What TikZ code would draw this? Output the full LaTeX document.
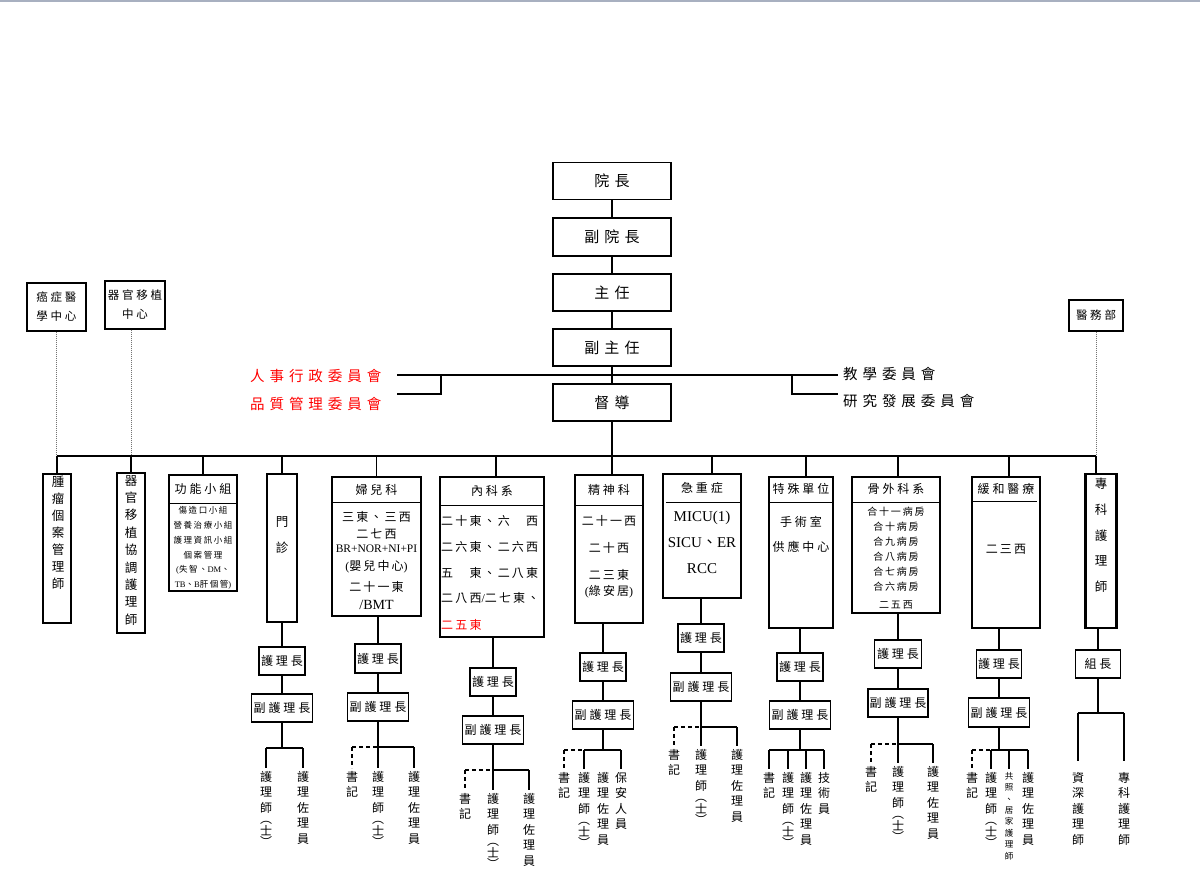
\documentclass[tikz,border=0pt]{standalone}
\usepackage{fontspec}
\setmainfont{Noto Sans CJK TC}
\newfontfamily\lat{Liberation Serif}
\newfontfamily\cjA[LetterSpace=34]{Noto Sans CJK TC}
\newfontfamily\cjB[LetterSpace=24]{Noto Sans CJK TC}
\newfontfamily\cjC[LetterSpace=18]{Noto Sans CJK TC}
\usetikzlibrary{calc}
\definecolor{topg}{RGB}{168,176,192}
\newcommand\fsz[2]{\fontsize{#1}{#2}\selectfont}
\newcommand\hls{護\\理\\師\\[-4pt]︵\\[-4pt]士\\[-4pt]︶}
\newcommand\zly{護\\理\\佐\\理\\員}
\tikzset{
  box/.style={draw, line width=1.1pt, inner sep=0pt, align=center},
  tbox/.style={draw, line width=2.6pt, inner sep=0pt},
  conn/.style={line width=1.1pt},
  dconn/.style={line width=1.1pt, dash pattern=on 4pt off 3pt},
  dotl/.style={line width=1pt, black!55, dash pattern=on 1pt off 1pt},
  topt/.style={font=\cjA\fsz{15}{17}},
  comt/.style={font=\cjA\fsz{14.5}{16}, anchor=west, inner sep=0pt},
  sidet/.style={font=\cjB\fsz{11.5}{19}},
  hdr/.style={font=\cjB\fsz{12}{13}, inner sep=0pt},
  lowt/.style={font=\cjB\fsz{12}{13}},
  ctx/.style={font=\cjC\fsz{12}{14}, inner sep=0pt},
  ltx/.style={font=\lat\fsz{15}{16}, inner sep=0pt},
  vcol/.style={anchor=north, inner sep=0pt, align=center, font=\fsz{12.5}{17}},
  vlab/.style={anchor=north, inner sep=0pt, align=center, font=\fsz{12}{15.5}},
  hzbox/.style={box, lowt, minimum width=46pt, minimum height=28pt},
  fzbox/.style={box, lowt, minimum width=61pt, minimum height=28pt},
  dropl/.style={conn, shorten >=3pt},
  ddropl/.style={dconn, shorten >=3pt}
}
\begin{document}
\begin{tikzpicture}[x=1pt,y=-1pt]
\useasboundingbox (0,0) rectangle (1200,875);
\fill[topg] (0,0) rectangle (1200,2);
\coordinate (bus) at (0,456);

% ---------- top chain
\node[box,topt,minimum width=118pt,minimum height=37pt] (yz) at (612,181) {院長};
\node[box,topt,minimum width=118pt,minimum height=38pt] (fyz) at (612,237) {副院長};
\node[box,topt,minimum width=118pt,minimum height=37pt] (zr) at (612,292.5) {主任};
\node[box,topt,minimum width=118pt,minimum height=37pt] (fzr) at (612,347.5) {副主任};
\node[box,topt,minimum width=118pt,minimum height=37pt] (dd) at (612,402.5) {督導};
\draw[conn] (yz) -- (fyz);
\draw[conn] (fyz) -- (zr);
\draw[conn] (zr) -- (fzr);
\draw[conn] (fzr) -- (dd);
\draw[conn] (dd.south) -- (dd.south |- bus);

% ---------- committees
\node[comt,red] (rs) at (250,376) {人事行政委員會};
\node[comt,red] (pz) at (250,404) {品質管理委員會};
\node[comt] (jx) at (843,374) {教學委員會};
\node[comt] (yf) at (843,401) {研究發展委員會};
\coordinate (k1) at (397,375); \coordinate (k2) at (838,375);
\coordinate (k3) at (441,375); \coordinate (k4) at (441,394); \coordinate (k5) at (397,394);
\coordinate (k6) at (792,375); \coordinate (k7) at (792,394); \coordinate (k8) at (838,394);
\draw[conn] (k1) -- (k2);
\draw[conn] (k3) -- (k4) -- (k5);
\draw[conn] (k6) -- (k7) -- (k8);

% ---------- side top boxes
\node[box,sidet,line width=1.4pt,minimum width=59pt,minimum height=48pt] (tl1) at (56.5,307) {癌症醫\\學中心};
\node[box,sidet,line width=1.4pt,minimum width=60pt,minimum height=48pt] (tl2) at (135,305) {器官移植\\中心};
\node[box,sidet,line width=1.4pt,minimum width=54pt,minimum height=31pt] (yw) at (1096,315.5) {醫務部};

% ---------- second level columns
\node[tbox,minimum width=28pt,minimum height=149pt] (c1) at (57,548.5) {};
\node[vcol] (c1t) at (58,476) {腫\\瘤\\個\\案\\管\\理\\師};

\node[tbox,minimum width=28pt,minimum height=160pt] (c2) at (131,553) {};
\node[vcol,font=\fsz{12.5}{17.4}] (c2t) at (131,475) {器\\官\\移\\植\\協\\調\\護\\理\\師};

\node[box,minimum width=68pt,minimum height=116pt] (c3) at (203,533) {};
\draw[conn] ($(c3.north west)+(0,29)$) -- ($(c3.north east)+(0,29)$);
\node[hdr] (c3h) at (203,489) {功能小組};
\node[font=\cjC\fsz{8.5}{14.8},align=center,inner sep=0pt] (c3t) at (203,548)
  {傷造口小組\\營養治療小組\\護理資訊小組\\個案管理\\{\lat(}失智、{\lat DM}、\\{\lat TB}、{\lat B}肝個管{\lat)}};

\node[box,minimum width=30pt,minimum height=148pt] (c4) at (282,548) {};
\node[font=\fsz{12.5}{26},align=center,inner sep=0pt] (c4t) at (282,535) {門\\診};

\node[box,minimum width=89pt,minimum height=139pt] (c5) at (376.5,546.5) {};
\draw[conn] ($(c5.north west)+(0,26)$) -- ($(c5.north east)+(0,26)$);
\node[hdr] (c5h) at (376.5,490) {婦兒科};
\node[ctx] (c5a) at (376.5,517) {三東、三西};
\node[ctx] (c5b) at (376.5,534) {二七西};
\node[inner sep=0pt,font=\lat\fsz{11.5}{12}] (c5c) at (376.5,549) {BR+NOR+NI+PI};
\node[ctx] (c5d) at (376.5,567) {{\lat(}嬰兒中心{\lat)}};
\node[ctx] (c5e) at (376.5,587) {二十一東};
\node[inner sep=0pt,font=\lat\fsz{14}{14}] (c5f) at (376.5,605) {/BMT};

\node[box,minimum width=104pt,minimum height=160pt] (c6) at (492,557) {};
\draw[conn] ($(c6.north west)+(0,29)$) -- ($(c6.north east)+(0,29)$);
\node[hdr] (c6h) at (492,491) {內科系};
\node[ctx,anchor=west] (c6a) at (441,521) {二十東、六　西};
\node[ctx,anchor=west] (c6b) at (441,547) {二六東、二六西};
\node[ctx,anchor=west] (c6c) at (441,573) {五　東、二八東};
\node[ctx,anchor=west] (c6d) at (441,598) {二八西{\lat/}二七東、};
\node[ctx,anchor=west,red] (c6e) at (441,625) {二五東};

\node[box,minimum width=68pt,minimum height=148pt] (c7) at (609,549) {};
\draw[conn] ($(c7.north west)+(0,31)$) -- ($(c7.north east)+(0,31)$);
\node[hdr] (c7h) at (609,490) {精神科};
\node[ctx] (c7a) at (609,521) {二十一西};
\node[ctx] (c7b) at (609,548) {二十西};
\node[ctx] (c7c) at (609,575) {二三東};
\node[ctx] (c7d) at (609,592) {{\lat(}綠安居{\lat)}};

\node[box,minimum width=78pt,minimum height=124pt] (c8) at (702,536) {};
\draw[conn] ($(c8.north west)+(4,29)$) -- ($(c8.north east)+(0,29)$);
\node[hdr] (c8h) at (702,488) {急重症};
\node[ltx] (c8a) at (702,518) {MICU(1)};
\node[ltx] (c8b) at (702,543) {SICU{\cjC 、}ER};
\node[ltx] (c8c) at (702,569) {RCC};

\node[box,minimum width=64pt,minimum height=151pt] (c9) at (801,552.5) {};
\draw[conn] ($(c9.north west)+(0,26)$) -- ($(c9.north east)+(0,26)$);
\node[hdr] (c9h) at (801,489) {特殊單位};
\node[inner sep=0pt,font=\cjB\fsz{12}{14}] (c9a) at (801,522) {手術室};
\node[inner sep=0pt,font=\cjB\fsz{12}{14}] (c9b) at (801,547) {供應中心};

\node[box,minimum width=88pt,minimum height=136pt] (c10) at (896,545) {};
\draw[conn] ($(c10.north west)+(0,26)$) -- ($(c10.north east)+(0,26)$);
\node[hdr] (c10h) at (896,489) {骨外科系};
\node[inner sep=0pt,font=\cjC\fsz{10}{15},align=center] (c10t) at (896,558.5)
  {合十一病房\\合十病房\\合九病房\\合八病房\\合七病房\\合六病房\\[3pt]二五西};

\node[box,minimum width=68pt,minimum height=151pt] (c11) at (1006,552.5) {};
\draw[conn] ($(c11.north west)+(0,25)$) -- ($(c11.north east)+(-4,25)$);
\node[hdr] (c11h) at (1006,489) {緩和醫療};
\node[ctx] (c11a) at (1006,549) {二三西};

\node[tbox,minimum width=31pt,minimum height=154pt] (c12) at (1101,551) {};
\node[vcol,font=\fsz{12.5}{25.7}] (c12t) at (1101,478) {專\\科\\護\\理\\師};

% ---------- bus and drops
\draw[conn] (tl1.south |- bus) -- (yw.south |- bus);
\draw[dotl] (tl1.south) -- (tl1.south |- bus);
\draw[dotl] (c2.north |- tl2.south) -- (c2.north |- bus);
\draw[dotl] (yw.south) -- (yw.south |- bus);
\coordinate (a6) at ($(c6.north)+(4,0)$);
\coordinate (a8) at ($(c8.north)+(10,0)$);
\coordinate (a9) at ($(c9.north)+(5,0)$);
\coordinate (a10) at ($(c10.north)+(2,0)$);
\coordinate (a11) at ($(c11.north)+(3,0)$);
\draw[conn] (c1.north |- bus) -- (c1.north);
\draw[conn] (c2.north |- bus) -- (c2.north);
\draw[conn] (c3.north |- bus) -- (c3.north);
\draw[conn] (c4.north |- bus) -- (c4.north);
\draw[conn] (c5.north |- bus) -- (c5.north);
\draw[conn] (a6 |- bus) -- (a6);
\draw[conn] (dd.south |- bus) -- (dd.south |- c7.north);
\draw[conn] (a8 |- bus) -- (a8);
\draw[conn] (a9 |- bus) -- (a9);
\draw[conn] (a10 |- bus) -- (a10);
\draw[conn] (a11 |- bus) -- (a11);
\draw[conn] (yw.south |- bus) -- (yw.south |- c12.north);

% ---------- lower chains
% L4 門診
\node[hzbox] (hz4) at (282,661) {護理長};
\node[fzbox] (fz4) at (282,708) {副護理長};
\coordinate (b4) at (282,748);
\node[vlab] (l4a) at (266,771) {\hls};
\node[vlab] (l4b) at (303,771) {\zly};
\draw[conn] (hz4.north |- c4.south) -- (hz4.north);
\draw[conn] (hz4) -- (fz4);
\draw[conn] (fz4.south) -- (b4);
\draw[conn] (l4a.north |- b4) -- (l4b.north |- b4);
\draw[dropl] (l4a.north |- b4) -- (l4a.north);
\draw[dropl] (l4b.north |- b4) -- (l4b.north);

% L5 婦兒科
\node[hzbox,minimum height=29pt] (hz5) at (378,658.5) {護理長};
\node[fzbox] (fz5) at (378,707) {副護理長};
\coordinate (b5) at (378,747);
\node[vlab] (l5a) at (352,771) {書\\記};
\node[vlab] (l5b) at (378,771) {\hls};
\node[vlab] (l5c) at (414,771) {\zly};
\draw[conn] (hz5.north |- c5.south) -- (hz5.north);
\draw[conn] (hz5) -- (fz5);
\draw[conn] (fz5.south) -- (b5);
\draw[dconn] (l5a.north |- b5) -- (b5);
\draw[conn] (b5) -- (l5c.north |- b5);
\draw[ddropl] (l5a.north |- b5) -- (l5a.north);
\draw[dropl] (l5b.north |- b5) -- (l5b.north);
\draw[dropl] (l5c.north |- b5) -- (l5c.north);

% L6 內科系
\node[hzbox] (hz6) at (493,682) {護理長};
\node[fzbox] (fz6) at (493,730) {副護理長};
\coordinate (b6) at (493,770);
\node[vlab] (l6a) at (465,793) {書\\記};
\node[vlab] (l6b) at (493,793) {\hls};
\node[vlab] (l6c) at (529,793) {\zly};
\draw[conn] (hz6.north |- c6.south) -- (hz6.north);
\draw[conn] (hz6) -- (fz6);
\draw[conn] (fz6.south) -- (b6);
\draw[dconn] (l6a.north |- b6) -- (b6);
\draw[conn] (b6) -- (l6c.north |- b6);
\draw[ddropl] (l6a.north |- b6) -- (l6a.north);
\draw[dropl] (l6b.north |- b6) -- (l6b.north);
\draw[dropl] (l6c.north |- b6) -- (l6c.north);

% L7 精神科
\node[hzbox] (hz7) at (603,667) {護理長};
\node[fzbox] (fz7) at (603,715) {副護理長};
\coordinate (b7) at (603,750);
\node[vlab] (l7a) at (564,772) {書\\記};
\node[vlab] (l7b) at (584,772) {\hls};
\node[vlab] (l7c) at (603,772) {\zly};
\node[vlab] (l7d) at (621,772) {保\\安\\人\\員};
\draw[conn] (hz7.north |- c7.south) -- (hz7.north);
\draw[conn] (hz7) -- (fz7);
\draw[conn] (fz7.south) -- (b7);
\draw[dconn] (l7a.north |- b7) -- (l7b.north |- b7);
\draw[conn] (l7b.north |- b7) -- (l7d.north |- b7);
\draw[ddropl] (l7a.north |- b7) -- (l7a.north);
\draw[dropl] (l7b.north |- b7) -- (l7b.north);
\draw[dropl] (l7d.north |- b7) -- (l7d.north);

% L8 急重症
\node[hzbox] (hz8) at (701,638) {護理長};
\node[fzbox] (fz8) at (701,687) {副護理長};
\coordinate (b8) at (701,727);
\node[vlab] (l8a) at (674,749) {書\\記};
\node[vlab] (l8b) at (701,749) {\hls};
\node[vlab] (l8c) at (737,749) {\zly};
\draw[conn] (hz8.north |- c8.south) -- (hz8.north);
\draw[conn] (hz8) -- (fz8);
\draw[conn] (fz8.south) -- (b8);
\draw[dconn] (l8a.north |- b8) -- (b8);
\draw[conn] (b8) -- (l8c.north |- b8);
\draw[ddropl] (l8a.north |- b8) -- (l8a.north);
\draw[dropl] (l8b.north |- b8) -- (l8b.north);
\draw[dropl] (l8c.north |- b8) -- (l8c.north);

% L9 特殊單位
\node[hzbox] (hz9) at (800,667) {護理長};
\node[fzbox] (fz9) at (800,715) {副護理長};
\coordinate (b9) at (800,750);
\node[vlab] (l9a) at (769,772) {書\\記};
\node[vlab] (l9b) at (788,772) {\hls};
\node[vlab] (l9c) at (806,772) {\zly};
\node[vlab] (l9d) at (824,772) {技\\術\\員};
\draw[conn] (hz9.north |- c9.south) -- (hz9.north);
\draw[conn] (hz9) -- (fz9);
\draw[conn] (fz9.south) -- (b9);
\draw[conn] (l9a.north |- b9) -- (l9d.north |- b9);
\draw[dropl] (l9a.north |- b9) -- (l9a.north);
\draw[dropl] (l9b.north |- b9) -- (l9b.north);
\draw[dropl] (l9c.north |- b9) -- (l9c.north);
\draw[dropl] (l9d.north |- b9) -- (l9d.north);

% L10 骨外科系
\node[hzbox,minimum width=47pt] (hz10) at (898,654) {護理長};
\node[fzbox,minimum width=60pt] (fz10) at (898,703) {副護理長};
\coordinate (b10) at (898,744);
\node[vlab] (l10a) at (871,766) {書\\記};
\node[vlab] (l10b) at (898,766) {\hls};
\node[vlab] (l10c) at (933,766) {\zly};
\draw[conn] (hz10.north |- c10.south) -- (hz10.north);
\draw[conn] (hz10) -- (fz10);
\draw[conn] (fz10.south) -- (b10);
\draw[dconn] (l10a.north |- b10) -- (b10);
\draw[conn] (b10) -- (l10c.north |- b10);
\draw[ddropl] (l10a.north |- b10) -- (l10a.north);
\draw[dropl] (l10b.north |- b10) -- (l10b.north);
\draw[dropl] (l10c.north |- b10) -- (l10c.north);

% L11 緩和醫療
\node[hzbox,minimum width=45pt] (hz11) at (999,664) {護理長};
\node[fzbox,minimum height=29pt] (fz11) at (999,712.5) {副護理長};
\coordinate (b11) at (999,750);
\node[vlab] (l11a) at (972,772) {書\\記};
\node[vlab] (l11b) at (991,772) {\hls};
\node[vlab,font=\fsz{8.5}{11.4}] (l11c) at (1009,772) {共\\照\\、\\居\\家\\護\\理\\師};
\node[vlab] (l11d) at (1028,772) {\zly};
\draw[conn] (hz11.north |- c11.south) -- (hz11.north);
\draw[conn] (hz11) -- (fz11);
\draw[conn] (fz11.south) -- (b11);
\draw[dconn] (l11a.north |- b11) -- (l11b.north |- b11);
\draw[conn] (l11b.north |- b11) -- (l11d.north |- b11);
\draw[ddropl] (l11a.north |- b11) -- (l11a.north);
\draw[dropl] (l11b.north |- b11) -- (l11b.north);
\draw[dropl] (l11c.north |- b11) -- (l11c.north);
\draw[dropl] (l11d.north |- b11) -- (l11d.north);

% L12 專科護理師
\node[hzbox,minimum width=45pt] (zz) at (1098,664) {組長};
\coordinate (b12) at (1098,713);
\node[vlab] (l12a) at (1078,772) {資\\深\\護\\理\\師};
\node[vlab] (l12b) at (1124,772) {專\\科\\護\\理\\師};
\draw[conn] (zz.north |- c12.south) -- (zz.north);
\draw[conn] (zz.south) -- (b12);
\draw[conn] (l12a.north |- b12) -- (l12b.north |- b12);
\draw[conn, shorten >=11pt] (l12a.north |- b12) -- (l12a.north);
\draw[conn, shorten >=11pt] (l12b.north |- b12) -- (l12b.north);
\end{tikzpicture}
\end{document}
